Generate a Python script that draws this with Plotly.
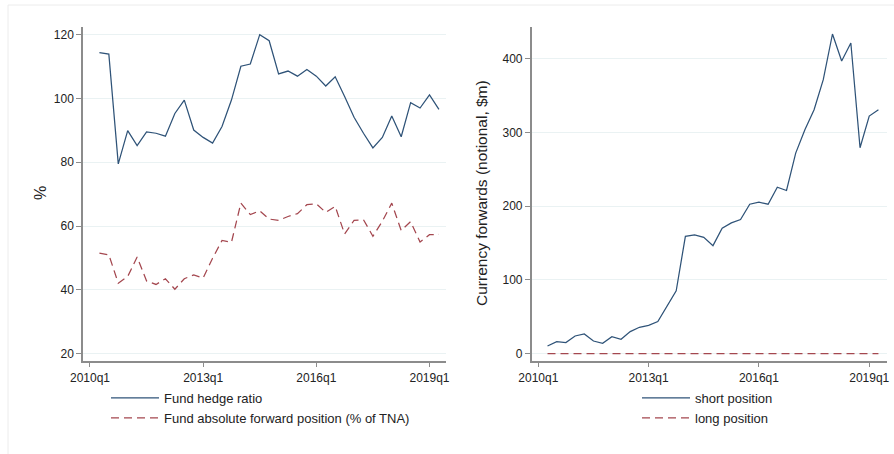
import plotly.graph_objects as go

# Quarterly observations, 2010q2 to 2019q2
quarters = [f"{y}q{q}" for y in range(2010, 2020) for q in range(1, 5)]
quarters = quarters[1:38]

hedge_ratio = [114.4, 113.9, 79.5, 89.9, 85.2, 89.5, 89.1, 88.2, 95.3, 99.5,
               90.1, 87.8, 86.0, 91.2, 99.5, 110.1, 110.8, 120.0, 118.1, 107.7,
               108.6, 107.0, 109.1, 107.0, 103.9, 106.8, 100.6, 94.1, 89.1, 84.5,
               87.8, 94.5, 88.0, 98.7, 97.0, 101.1, 96.6]

abs_forward = [51.5, 51.0, 42.1, 44.2, 50.3, 42.8, 41.7, 43.5, 40.2, 43.5,
               44.7, 43.7, 49.9, 55.5, 54.9, 67.2, 63.6, 64.8, 62.2, 61.8,
               63.0, 63.9, 66.7, 67.0, 64.3, 66.2, 57.5, 61.8, 62.0, 56.8,
               61.5, 67.2, 58.6, 61.4, 55.0, 57.3, 57.4]

short_pos = [10.4, 16.3, 15.0, 24.0, 26.8, 17.2, 14.1, 23.1, 19.5, 29.9,
             35.8, 38.5, 43.5, 63.9, 85.3, 159.2, 161.0, 157.8, 146.5, 170.1,
             177.3, 181.9, 202.7, 205.4, 202.7, 225.8, 221.3, 272.0, 303.6, 330.8,
             371.5, 433.5, 396.8, 421.3, 279.2, 322.2, 330.8]

long_pos = [0.0] * 37

tick_labels = ["2010q1", "2013q1", "2016q1", "2019q1"]


def q_index(label):
    year, q = label.split("q")
    return (int(year) - 2010) * 4 + int(q) - 1


x = [q_index(s) for s in quarters]
tick_vals = [q_index(s) for s in tick_labels]

W, H = 894, 454
NAVY = "#2f5378"
MAROON = "#a4474f"
GRID = "#eaf2f3"
AXIS = "#8c8c8c"
FONT = "Liberation Sans, Arial, sans-serif"


def px_x(p):
    return p / W


def px_y(p):
    return 1 - p / H


fig = go.Figure()

fig.add_trace(go.Scatter(x=x, y=hedge_ratio, mode="lines", name="Fund hedge ratio",
                         line=dict(color=NAVY, width=1.25), xaxis="x", yaxis="y",
                         legend="legend"))
fig.add_trace(go.Scatter(x=x, y=abs_forward, mode="lines",
                         name="Fund absolute forward position (% of TNA)",
                         line=dict(color=MAROON, width=1.25, dash="8px,5px"),
                         xaxis="x", yaxis="y", legend="legend"))
fig.add_trace(go.Scatter(x=x, y=short_pos, mode="lines", name="short position",
                         line=dict(color=NAVY, width=1.25), xaxis="x2", yaxis="y2",
                         legend="legend2"))
fig.add_trace(go.Scatter(x=x, y=long_pos, mode="lines", name="long position",
                         line=dict(color=MAROON, width=1.25, dash="8px,5px"),
                         xaxis="x2", yaxis="y2", legend="legend2"))

xaxis_common = dict(
    tickmode="array", tickvals=tick_vals, ticktext=tick_labels,
    showgrid=False, zeroline=False, showline=True, linecolor=AXIS, linewidth=1.5,
    ticks="outside", ticklen=5, tickcolor=AXIS, tickwidth=1,
    tickfont=dict(family=FONT, size=12, color="#222"), automargin=False,
)
yaxis_common = dict(
    showgrid=True, gridcolor=GRID, gridwidth=1, zeroline=False,
    showline=True, linecolor=AXIS, linewidth=1.5,
    ticks="outside", ticklen=5, tickcolor=AXIS, tickwidth=1,
    tickfont=dict(family=FONT, size=12, color="#222"), automargin=False,
)

y_dom = [px_y(360.7), px_y(26.7)]
legend_style = dict(xanchor="left", yanchor="top", bgcolor="rgba(0,0,0,0)",
                    font=dict(family=FONT, size=13, color="#222"),
                    tracegroupgap=0, itemwidth=48)

fig.update_layout(
    width=W, height=H,
    margin=dict(l=0, r=0, t=0, b=0),
    paper_bgcolor="white", plot_bgcolor="white",
    font=dict(family=FONT, color="#222"),
    xaxis=dict(domain=[px_x(83), px_x(446)], range=[-0.74, 37.75],
               anchor="y", **xaxis_common),
    yaxis=dict(domain=y_dom, range=[17.8, 122.5], tickvals=[20, 40, 60, 80, 100, 120],
               anchor="x", **yaxis_common),
    xaxis2=dict(domain=[px_x(531.7), px_x(886.7)], range=[-0.72, 37.9],
                anchor="y2", **xaxis_common),
    yaxis2=dict(domain=y_dom, range=[-9.5, 443.4], tickvals=[0, 100, 200, 300, 400],
                anchor="x2", **yaxis_common),
    legend=dict(x=px_x(106), y=px_y(383), **legend_style),
    legend2=dict(x=px_x(637), y=px_y(383), **legend_style),
    annotations=[
        dict(text="%", x=px_x(40), y=px_y(193), xref="paper", yref="paper",
             xanchor="center", yanchor="middle",
             showarrow=False, textangle=-90, font=dict(family=FONT, size=16, color="#222")),
        dict(text="Currency forwards (notional, $m)", x=px_x(481), y=px_y(193),
             xref="paper", yref="paper", xanchor="center", yanchor="middle",
             showarrow=False, textangle=-90,
             font=dict(family=FONT, size=15.5, color="#222")),
    ],
    shapes=[
        dict(type="rect", xref="paper", yref="paper", x0=px_x(8), x1=1.01,
             y0=-0.05, y1=px_y(5), line=dict(color="#ececec", width=1),
             fillcolor="rgba(0,0,0,0)", layer="below"),
    ],
)

fig.write_html("out.html")
